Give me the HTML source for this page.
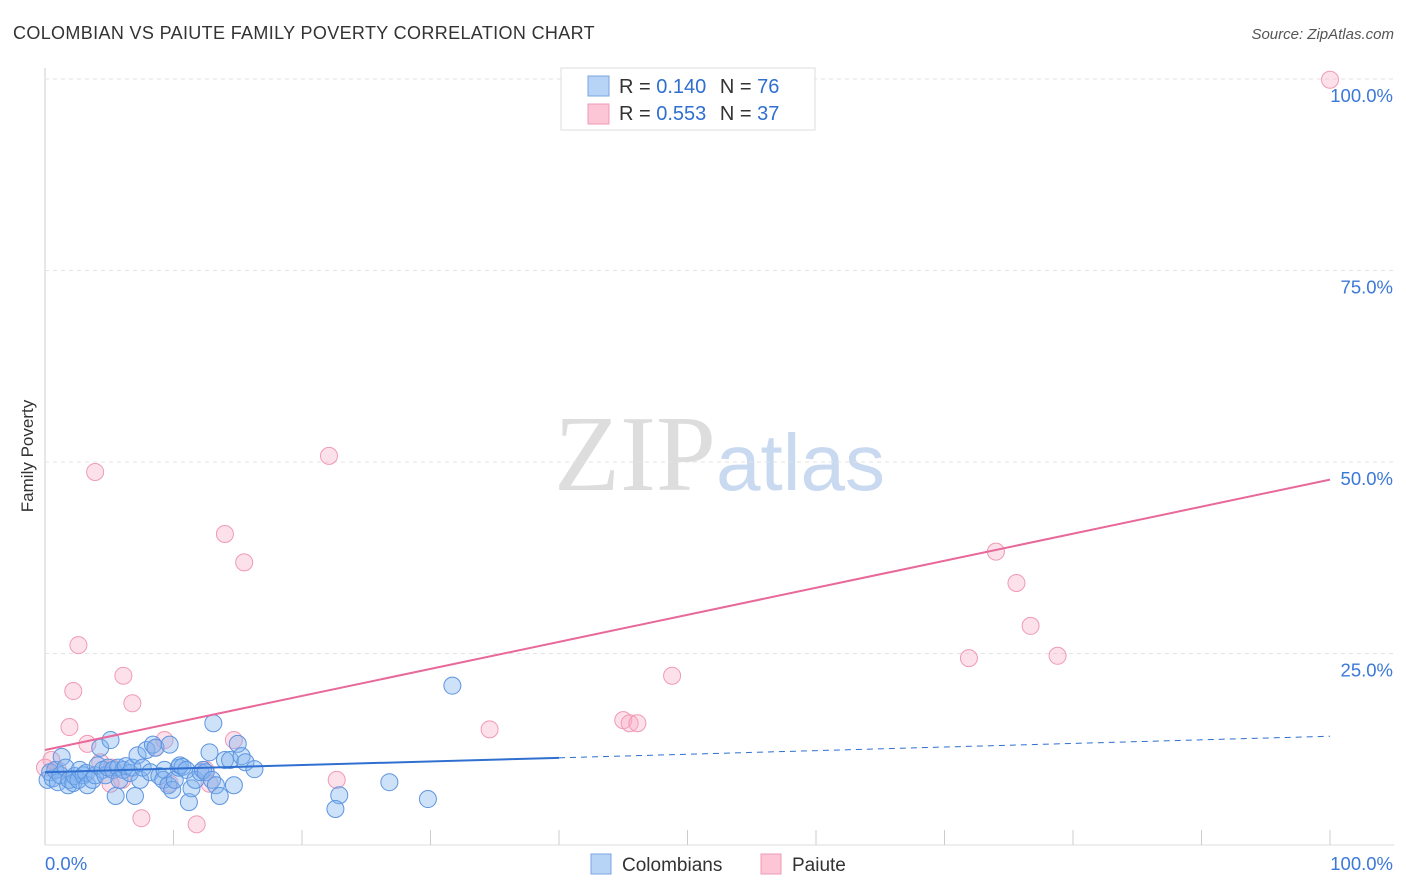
<!DOCTYPE html>
<html><head><meta charset="utf-8"><style>
body{margin:0;background:#fff;font-family:"Liberation Sans",sans-serif;}
svg{display:block}
</style></head><body>
<svg id="chart" width="1406" height="892" xmlns="http://www.w3.org/2000/svg">
<text x="13" y="39" font-size="18" fill="#333" letter-spacing="0.35">COLOMBIAN VS PAIUTE FAMILY POVERTY CORRELATION CHART</text>
<text x="1394" y="39" font-size="15" fill="#555" font-style="italic" text-anchor="end">Source: ZipAtlas.com</text>
<text x="33" y="456" font-size="17" fill="#333" text-anchor="middle" transform="rotate(-90 33 456)">Family Poverty</text>
<text x="716" y="490" font-size="108" fill="#ddd" text-anchor="end" font-family="Liberation Serif,serif">ZIP</text>
<text x="716" y="490" font-size="80" fill="#c9d9f0">atlas</text>
<g id="grid"></g><g id="pts"></g><g id="lines"></g>
<g>
<rect x="561" y="68" width="254" height="62" fill="#fff" stroke="#ddd"/>
<rect x="588" y="76" width="21" height="20" fill="#b7d3f6" stroke="#7aa6e0"/>
<rect x="588" y="104" width="21" height="20" fill="#fcc6d6" stroke="#f09ab4"/>
<text x="619" y="93" font-size="20" fill="#333">R = <tspan fill="#2f6fd0">0.140</tspan>  <tspan dx="8">N = </tspan><tspan fill="#2f6fd0">76</tspan></text>
<text x="619" y="120" font-size="20" fill="#333">R = <tspan fill="#2f6fd0">0.553</tspan>  <tspan dx="8">N = </tspan><tspan fill="#2f6fd0">37</tspan></text>
</g>
<g>
<rect x="591" y="854" width="20" height="20" fill="#b7d3f6" stroke="#7aa6e0"/>
<text x="622" y="871" font-size="19" fill="#333">Colombians</text>
<rect x="761" y="854" width="20" height="20" fill="#fcc6d6" stroke="#f09ab4"/>
<text x="792" y="871" font-size="19" fill="#333">Paiute</text>
</g>
</svg>
<script>
const blueX=[0.2,0.4,0.6,0.8,1.0,1.2,1.3,1.6,1.8,1.9,2.2,2.3,2.6,2.7,3.0,3.2,3.3,3.7,3.9,4.1,4.3,4.5,4.7,4.9,5.1,5.3,5.5,5.7,5.8,6.1,6.3,6.6,6.8,7.0,7.2,7.4,7.6,7.9,8.2,8.4,8.6,8.9,9.2,9.3,9.6,9.7,9.9,10.1,10.4,10.5,10.7,11.0,11.2,11.4,11.7,12.1,12.3,12.5,12.8,13.0,13.1,13.3,13.6,14.0,14.4,14.7,15.0,15.3,15.6,16.3,22.9,22.6,26.8,29.8,31.7];
const blueY=[8.5,9.5,8.7,9.8,8.2,9.1,11.5,10.1,7.8,8.5,8.1,9.0,8.5,9.8,9.1,9.4,7.8,8.5,9.1,10.4,12.7,9.8,9.1,10.1,13.7,9.8,6.4,10.1,8.5,9.8,10.3,9.4,10.1,6.4,11.7,8.5,10.1,12.4,9.5,13.1,12.7,9.0,8.5,9.8,7.8,13.1,7.2,8.5,10.1,10.4,10.2,9.8,5.6,7.4,8.5,9.5,9.8,9.5,12.1,8.5,15.9,7.8,6.4,11.1,11.1,7.8,13.2,11.6,10.8,9.9,6.5,4.7,8.2,6.0,20.8];
const pinkX=[100,22.1,3.9,14.0,15.5,2.6,2.2,6.1,6.8,1.9,3.3,4.3,8.6,9.3,14.7,0.5,1.0,6.0,5.1,9.7,12.8,22.7,7.5,11.8,34.6,45.0,45.5,46.1,48.8,71.9,74.0,75.6,76.7,78.8,0,5.2,12.5];
const pinkY=[99.9,50.8,48.7,40.6,36.9,26.1,20.1,22.1,18.5,15.4,13.2,10.8,12.7,13.7,13.7,11.1,9.8,8.5,8.0,8.0,8.0,8.5,3.5,2.7,15.1,16.3,15.9,15.9,22.1,24.4,38.3,34.2,28.6,24.7,10.1,10.1,9.8];
const blueTrend=[9.5,14.2];
const pinkTrend=[12.4,47.7];
const yTicks=[25,50,75,100];
const yTickLabels=["25.0%","50.0%","75.0%","100.0%"];
const xTicks=[10,20,30,40,50,60,70,80,90,100];
const NS="http://www.w3.org/2000/svg";
const sx=v=>45+v*12.85, sy=v=>845-v*7.66;
function mk(t,a,p){const e=document.createElementNS(NS,t);for(const k in a)e.setAttribute(k,a[k]);p.appendChild(e);return e;}
const grid=document.getElementById('grid'),pts=document.getElementById('pts'),lines=document.getElementById('lines');
let ax=mk('line',{x1:45,y1:68,x2:45,y2:845,stroke:'#ccc'},grid);


let bx=mk('line',{x1:45,y1:845,x2:1394,y2:845,stroke:'#ddd'},grid);


yTicks.forEach((v,i)=>{
 let g=mk('line',{x1:45,x2:1394,y1:sy(v),y2:sy(v),stroke:'#e3e3e3','stroke-dasharray':'4,4'},grid);
 
 
 let t=mk('text',{x:1393,y:sy(v)+23,'font-size':18.5,fill:'#3b78d8','text-anchor':'end'},grid);t.textContent=yTickLabels[i];
 
 
});
xTicks.forEach(v=>{
 let l=mk('line',{x1:sx(v),x2:sx(v),y1:830,y2:845,stroke:'#ccc'},grid);
 
 
});
let x0=mk('text',{x:45,y:870,'font-size':18.5,fill:'#3b78d8'},grid);x0.textContent='0.0%';


let x1=mk('text',{x:1393,y:870,'font-size':18.5,fill:'#3b78d8','text-anchor':'end'},grid);x1.textContent='100.0%';


pinkX.forEach((x,i)=>{
 let c=mk('circle',{cx:sx(x),cy:sy(pinkY[i]),r:8.5,fill:'rgba(248,170,196,0.35)',stroke:'#f09ab4','stroke-width':1},pts);
 
 
});
blueX.forEach((x,i)=>{
 let c=mk('circle',{cx:sx(x),cy:sy(blueY[i]),r:8.5,fill:'rgba(130,180,240,0.4)',stroke:'#5d95e0','stroke-width':1},pts);
 
 
});
const by=x=>blueTrend[0]+(blueTrend[1]-blueTrend[0])*x/100, py=x=>pinkTrend[0]+(pinkTrend[1]-pinkTrend[0])*x/100;
let pl=mk('line',{x1:sx(0),y1:sy(py(0)),x2:sx(100),y2:sy(py(100)),stroke:'#e8689a','stroke-width':2},lines);


let bl=mk('line',{x1:sx(0),y1:sy(by(0)),x2:sx(40),y2:sy(by(40)),stroke:'#2f6fd0','stroke-width':2},lines);


let bd=mk('line',{x1:sx(40),y1:sy(by(40)),x2:sx(100),y2:sy(by(100)),stroke:'#2f6fd0','stroke-width':1,'stroke-dasharray':'6,5'},lines);


</script>
</body></html>
